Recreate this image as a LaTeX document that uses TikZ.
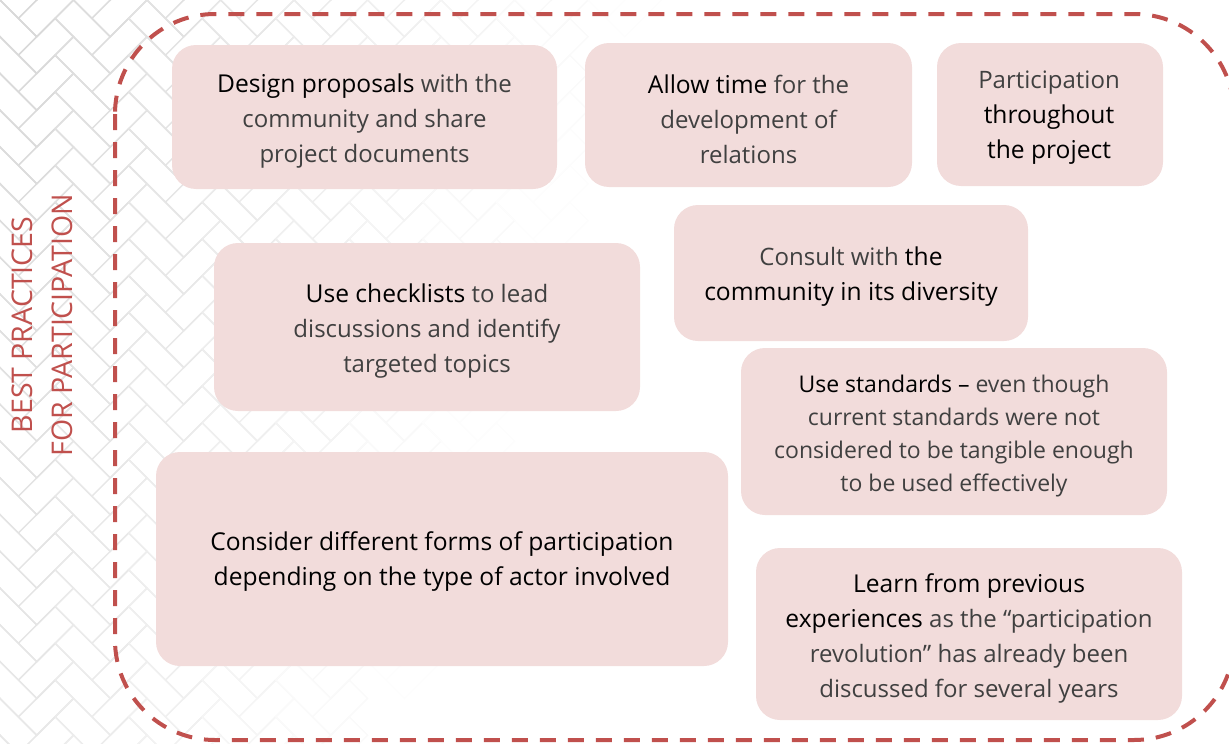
\documentclass[tikz,border=0pt]{standalone}
\usepackage{fontspec}
\setmainfont{Open Sans}
\usepackage{tikz}

\definecolor{cardpink}{HTML}{F2DCDB}
\definecolor{framered}{HTML}{C0504D}
\newcommand{\key}[1]{{\color{black}\fontsize{24.6}{35}\selectfont#1}}

\begin{document}
\begin{tikzpicture}[x=1pt,y=-1pt,
  card/.style={fill=cardpink, rounded corners=24pt, inner sep=0pt},
  cardtext/.style={align=center, text=black!75, font=\fontsize{24}{35}\selectfont},
  frame/.style={draw=framered, line width=4pt, dash pattern=on 16pt off 12pt, rounded corners=100pt}]
\useasboundingbox (0,0) rectangle (1229,744);
\clip (0,0) rectangle (1229,744);

% herringbone tiles in the back, fading out to the right
\begin{scope}[x={(18.38pt,-18.38pt)}, y={(-18.38pt,-18.38pt)}, line width=1.5pt]
\foreach \m in {-1,...,11}
  \foreach \k in {-2,...,22} {
    \pgfmathsetmacro\u{\k+2*\m}
    \pgfmathsetmacro\v{\k-2*\m}
    \pgfmathsetmacro\tone{max(0,15-73.5*\m/40-36.76*\k/120)}
    \pgfmathtruncatemacro\on{\tone>0.3}
    \ifnum\on=1
      \draw[black!\tone] (\u,\v) -- ++(2,0) -- ++(0,1) -- ++(-2,0) -- cycle
        (\u+2,\v-1) -- ++(1,0) -- ++(0,2) -- ++(-1,0) -- cycle;
    \fi
  }
\end{scope}

\draw[frame] (115,14) rectangle (1234,740);

\node[rotate=90, text=framered, font=\fontsize{28.5}{40}\selectfont, align=center] (label) at (42,325) {BEST PRACTICES\\FOR PARTICIPATION};

% the cards, placed by their centres
\node[card, minimum width=385pt, minimum height=144pt] (design) at (364.5,117) {};
\node[cardtext] (designtext) at (364.5,121) {\key{Design proposals} with the\\community and share\\project documents};
\node[card, minimum width=327pt, minimum height=144pt] (time) at (748.5,115) {};
\node[cardtext] (timetext) at (748.5,119) {\key{Allow time} for the\\development of\\relations};
\node[card, minimum width=226pt, minimum height=143pt] (throughout) at (1050,114.5) {};
\node[cardtext] (throughouttext) at (1049,118) {Participation\\\key{throughout}\\\key{the project}};
\node[card, minimum width=426pt, minimum height=168pt] (checklists) at (427,327) {};
\node[cardtext] (checkliststext) at (427,331) {\key{Use checklists} to lead\\discussions and identify\\targeted topics};
\node[card, minimum width=354pt, minimum height=136pt] (consult) at (851,273) {};
\node[cardtext] (consulttext) at (851,277) {Consult with \key{the}\\\key{community in its diversity}};
\node[card, minimum width=426pt, minimum height=167pt] (standards) at (954,431.5) {};
\node[cardtext, font=\fontsize{23}{33}\selectfont] (standardstext) at (954,436) {{\color{black}Use standards –} even though\\current standards were not\\considered to be tangible enough\\to be used effectively};
\node[card, minimum width=572pt, minimum height=214pt] (forms) at (442,559) {};
\node[cardtext] (formstext) at (442,562) {\key{Consider different forms of participation}\\\key{depending on the type of actor involved}};
\node[card, minimum width=426pt, minimum height=172pt] (learn) at (969,634) {};
\node[cardtext] (learntext) at (969,638) {\key{Learn from previous}\\\key{experiences} as the “participation\\revolution” has already been\\discussed for several years};
\end{tikzpicture}
\end{document}
